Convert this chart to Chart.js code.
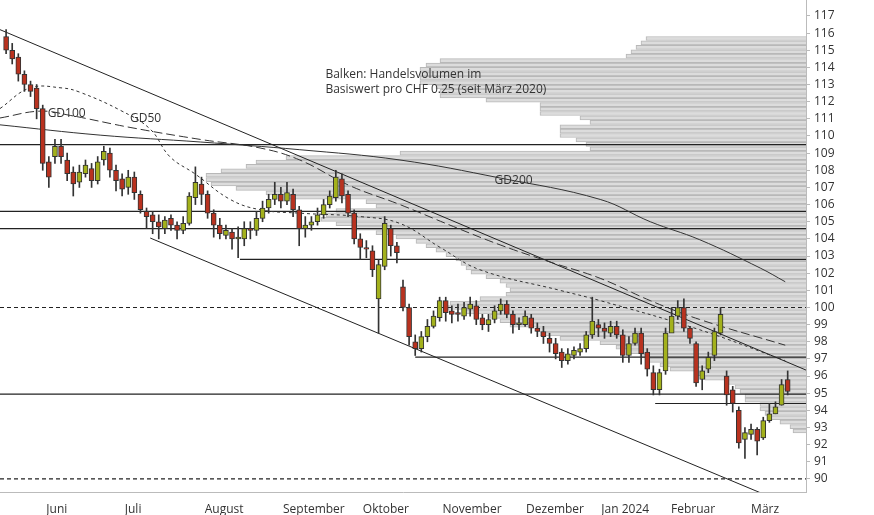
<!DOCTYPE html>
<html><head><meta charset="utf-8">
<script src="https://cdn.jsdelivr.net/npm/chart.js@4"></script>
<style>
body{margin:0;background:#fff}
#wrap{position:relative;width:874px;height:515px}
canvas{position:absolute;left:0;top:0}
</style></head><body>
<div id="wrap"><canvas id="vol" width="874" height="515"></canvas><canvas id="px" width="874" height="515"></canvas></div>
<script>
var opens = [115.8,115.0,114.6,113.6,113.0,112.8,111.6,108.5,108.8,109.4,
108.6,107.9,107.3,107.8,108.1,107.4,108.6,109.0,108.0,107.5,
107.0,107.6,106.6,105.6,105.4,105.0,104.6,105.2,104.8,104.5,
104.9,106.4,107.2,106.6,105.5,104.8,104.2,104.4,104.0,104.0,
104.6,104.5,105.2,105.8,106.3,106.6,106.2,106.6,105.7,104.6,
104.8,105.0,105.4,106.0,106.4,107.5,106.6,105.5,104.0,103.5,
103.3,100.5,102.4,104.6,103.6,101.2,100.0,98.0,97.6,98.3,
98.9,99.4,100.4,99.8,99.7,99.5,99.9,100.1,99.4,99.0,
99.3,99.8,100.2,99.6,99.0,99.0,99.4,98.8,98.6,98.2,
97.9,97.4,96.9,97.2,97.4,97.6,98.4,99.0,98.8,98.5,
98.9,98.4,97.2,97.9,98.5,97.4,96.2,95.2,96.3,98.5,
99.5,100.0,98.8,97.9,95.8,96.4,97.2,98.5,96.0,95.2,
94.0,92.3,92.6,92.9,92.4,93.4,93.8,94.3,95.8];
var closes = [115.0,114.5,113.6,113.0,112.6,111.6,108.4,107.6,109.4,108.8,
107.8,107.2,107.9,108.3,107.4,108.5,109.1,108.0,107.4,106.9,
107.6,106.7,105.7,105.3,105.0,104.7,105.1,104.8,104.5,104.9,
106.5,107.3,106.6,105.5,104.8,104.3,104.5,104.0,104.1,104.6,
104.5,105.2,105.8,106.3,106.6,106.2,106.7,105.7,104.6,104.8,
105.0,105.4,106.0,106.5,107.6,106.5,105.5,104.0,103.5,103.4,
102.2,102.5,104.9,103.6,103.2,100.0,98.3,97.6,98.3,98.9,
99.5,100.4,99.7,99.6,99.6,100.0,100.2,99.3,99.0,99.3,
99.8,100.2,99.6,99.0,99.1,99.5,98.8,98.6,98.3,97.9,
97.3,96.9,97.3,97.5,97.6,98.4,99.2,98.8,98.6,98.9,
98.4,97.2,97.9,98.5,97.3,96.4,95.2,96.2,98.5,99.5,
100.0,98.8,98.2,95.6,96.3,97.1,98.6,99.6,94.9,94.4,
92.1,92.7,92.9,92.2,93.4,93.8,94.2,95.5,95.1];
var highs = [116.2,115.4,114.8,113.8,113.2,113.0,111.8,108.8,109.8,109.8,
109.0,108.2,108.3,108.6,108.4,108.8,109.4,109.3,108.3,107.8,
108.0,107.9,106.8,105.8,105.6,105.4,105.3,105.4,105.0,105.3,
106.7,108.2,107.6,106.8,105.7,105.2,104.8,104.6,104.7,105.0,
105.0,105.6,106.2,106.6,107.3,107.0,107.3,106.9,105.9,105.3,
105.3,105.8,106.3,106.8,108.0,107.8,106.8,105.7,104.3,103.9,
103.6,102.8,105.3,104.8,103.8,101.6,100.2,98.4,98.6,99.3,
99.8,100.6,100.6,100.1,100.2,100.3,100.6,100.4,99.6,99.6,
100.1,100.5,100.4,99.8,99.4,99.8,99.6,99.1,98.9,98.5,
98.2,97.6,97.6,97.7,97.9,98.6,100.6,99.3,99.1,99.2,
99.2,98.7,98.3,98.8,98.8,97.6,96.6,96.4,98.8,100.0,
100.4,100.5,98.9,98.0,96.6,97.4,98.8,100.0,96.3,95.4,
94.2,93.0,93.2,93.0,93.6,94.4,94.5,95.8,96.3];
var lows = [114.8,114.2,113.2,112.6,112.3,111.0,108.0,107.0,108.4,108.4,
107.4,106.5,107.0,107.6,107.0,107.2,108.3,107.6,106.8,106.5,
106.6,106.3,105.5,104.6,104.3,104.0,104.3,104.5,104.0,104.3,
104.8,106.0,106.0,105.2,104.1,104.0,104.0,103.4,102.9,103.6,
104.0,104.2,105.0,105.5,106.0,105.8,106.0,105.3,103.6,104.1,
104.5,104.8,105.2,105.8,106.2,106.1,105.3,103.7,102.8,102.9,
101.8,98.5,102.2,103.0,102.6,99.8,97.8,97.2,97.4,98.0,
98.8,99.2,99.2,99.1,99.2,99.3,99.5,99.0,98.7,98.6,
99.1,99.6,99.4,98.5,98.7,98.9,98.5,98.3,97.9,97.4,
97.0,96.5,96.7,97.0,97.2,97.4,98.2,98.3,98.2,98.3,
98.2,96.8,96.8,97.8,96.7,96.0,94.9,94.9,96.1,98.8,
99.3,98.6,97.9,95.4,95.2,96.2,96.9,98.4,94.3,93.9,
91.8,91.2,92.3,91.4,92.3,93.3,93.8,94.3,94.9];

// moving averages: [day, value]
var gd50 = [[-1,111.6],[3.9,112.8],[9.2,112.8],[12.1,112.55],[18.7,111.5],[23.6,110.4],[26.8,108.8],[30.9,107.8],[36.7,106.3],[41.6,105.7],[48.1,105.5],[58,105.3],[64.5,104.9],[71.1,103.5],[77.6,102.2],[90.7,101.0],[97.3,100.4],[113.6,98.7],[127.6,96.9]];
var gd100 = [[-1,111.05],[5.6,111.45],[10.5,111.2],[20.3,110.5],[31.8,109.8],[41.6,109.3],[48.1,108.6],[56.3,107.1],[64.5,106.0],[72.7,104.8],[80.9,103.65],[89.1,102.65],[97.3,101.7],[105.5,100.4],[113.6,99.3],[127.6,97.8]];
var gd200 = [[-1,110.65],[15.4,110.05],[31.8,109.65],[48.1,109.2],[64.5,108.6],[80.9,107.55],[97.3,106.3],[105.5,105.0],[113.6,103.95],[123.5,102.3],[127.6,101.5]];

// horizontal support/resistance: [startDay, level, dashed]
var levels = [[-1,109.5,0],[-1,105.6,0],[-1,104.6,0],[38.3,102.8,0],[-1,100.0,1],[67,97.1,0],[-1,94.95,0],[106.3,94.4,0],[-1,90.0,1]];
var trendUpper = [[-1,116.2],[131,96.35]];
var trendLower = [[23.6,104.05],[123.5,89.2]];

var monthPos = [8.3,20.8,35.7,50.4,62.2,76.3,89.9,101.4,112.5,124.3];
var monthNames = ["Juni","Juli","August","September","Oktober","November","Dezember","Jan 2024","Februar","März"];

// volume profile: price level and volume
var volPrice = [117.7,117.4,117.1,116.8,116.5,116.2,115.9,115.6,115.3,115.0,114.7,114.4,114.1,113.8,113.5,113.2,112.9,112.6,112.3,112.0,111.7,111.4,111.1,110.8,110.5,110.2,
109.9,109.6,109.3,109.0,108.7,108.4,108.1,107.8,107.5,107.2,106.9,106.6,106.3,106.0,105.7,105.4,105.1,104.8,104.5,104.2,103.9,103.6,103.3,103.0,102.7,102.4,102.1,101.8,101.5,101.2,100.9,100.6,100.3,100.0,99.7,99.4,99.1,98.8,98.5,98.2,97.9,97.6,97.3,97.0,96.7,96.4,96.1,95.8,95.5,95.2,94.9,94.6,94.3,94.0,93.7,93.4,93.1,92.8,92.5,92.2,91.9,91.6,91.3,91.0];
var volume = [160,165,170,175,180,366,380,386,386,386,386,370,366,366,320,266,266,266,226,216,246,246,246,230,220,216,
406,520,550,560,585,600,600,595,570,540,520,440,430,470,480,485,470,450,430,410,390,380,370,360,350,345,340,335,320,306,300,296,300,326,356,361,340,316,306,296,270,266,246,206,190,176,166,160,146,136,110,101,81,71,66,61,61,46,46,41,36,26,16,13];

var N = opens.length;
var days = [];
for (var i = 0; i < N; i++) days.push(i);
var green = "#a3b11c", red = "#b9321f";

var bodies = days.map(function(d){ return {x:d, y:[opens[d], closes[d]]}; });
var wicks = days.map(function(d){ return {x:d, y:[lows[d], highs[d]]}; });
var bodyColors = days.map(function(d){ return closes[d] >= opens[d] ? green : red; });

var YMIN = 89.24, YMAX = 117.93;

function pts(a){ return a.map(function(p){ return {x:p[0], y:p[1]}; }); }
var datasets = [];
levels.forEach(function(l){
  datasets.push({type:"line", data:[{x:l[0],y:l[1]},{x:131,y:l[1]}], borderColor:"#222", borderWidth:1.2, borderDash:l[2]?[4,3]:[], pointRadius:0, order:5});
});
datasets.push({type:"line", data:pts(trendUpper), borderColor:"#222", borderWidth:1, pointRadius:0, order:5});
datasets.push({type:"line", data:pts(trendLower), borderColor:"#222", borderWidth:1, pointRadius:0, order:5});
datasets.push({type:"line", data:pts(gd200), borderColor:"#333", borderWidth:1, pointRadius:0, tension:0.4, order:4});
datasets.push({type:"line", data:pts(gd100), borderColor:"#333", borderWidth:1, borderDash:[9,4], pointRadius:0, tension:0.4, order:4});
datasets.push({type:"line", data:pts(gd50), borderColor:"#333", borderWidth:1, borderDash:[3,3], pointRadius:0, tension:0.4, order:4});
datasets.push({type:"bar", data:wicks, backgroundColor:"#333", barThickness:1, grouped:false, order:3});
datasets.push({type:"bar", data:bodies, backgroundColor:bodyColors, borderColor:"#333", borderWidth:1, borderSkipped:false, barThickness:5, grouped:false, order:2});

var labels = {
  id:"labels",
  afterDatasetsDraw:function(c){
    var ctx = c.ctx, x = c.scales.x, y = c.scales.y;
    ctx.save();
    ctx.font = "12px 'Open Sans'";
    ctx.fillStyle = "#333";
    ctx.textBaseline = "middle";
    ctx.fillText("GD100", x.getPixelForValue(6.8), y.getPixelForValue(111.3));
    ctx.fillText("GD50", x.getPixelForValue(20.3), y.getPixelForValue(111.0));
    ctx.fillText("GD200", x.getPixelForValue(80), y.getPixelForValue(107.4));
    ctx.fillText("Balken: Handelsvolumen im", x.getPixelForValue(52.3), y.getPixelForValue(113.6));
    ctx.fillText("Basiswert pro CHF 0.25 (seit März 2020)", x.getPixelForValue(52.3), y.getPixelForValue(112.7));
    ctx.restore();
  }
};

Chart.defaults.font.family = "'Open Sans', sans-serif";
Chart.defaults.font.size = 12;
Chart.defaults.color = "#333";
Chart.defaults.animation = false;

new Chart(document.getElementById("vol"), {
  type:"bar",
  data:{labels:volPrice, datasets:[{data:volPrice.map(function(p,i){ return {x:volume[i], y:p}; }), backgroundColor:"#dcdcdc", borderColor:"#b8b8b8", borderWidth:1, barThickness:4}]},
  options:{
    responsive:false, indexAxis:"y",
    layout:{padding:{right:68, bottom:23}},
    plugins:{legend:{display:false}, tooltip:{enabled:false}},
    scales:{
      y:{type:"linear", min:YMIN, max:YMAX, display:false},
      x:{type:"linear", min:0, max:806, reverse:true, display:false}
    }
  }
});

new Chart(document.getElementById("px"), {
  type:"bar",
  data:{datasets:datasets},
  plugins:[labels],
  options:{
    responsive:false,
    layout:{padding:0},
    plugins:{legend:{display:false}, tooltip:{enabled:false}},
    scales:{
      x:{type:"linear", min:-1, max:131, offset:false,
        afterFit:function(s){ s.height = 23; s.paddingLeft = 0; s.paddingRight = 0; },
        afterBuildTicks:function(s){ s.ticks = monthPos.map(function(v){ return {value:v}; }); },
        ticks:{autoSkip:false, maxRotation:0, padding:2, callback:function(v){ return monthNames[monthPos.indexOf(v)]; }},
        grid:{display:false}, border:{color:"#bbb"}},
      y:{type:"linear", position:"right", min:YMIN, max:YMAX,
        afterFit:function(s){ s.width = 68; s.paddingTop = 0; s.paddingBottom = 0; },
        afterBuildTicks:function(s){ var t=[]; for (var v=90; v<=117; v++) t.push({value:v}); s.ticks = t; },
        ticks:{padding:4},
        grid:{drawOnChartArea:false, tickLength:4, color:"#bbb"}, border:{color:"#bbb"}}
    }
  }
});
</script>
</body></html>
